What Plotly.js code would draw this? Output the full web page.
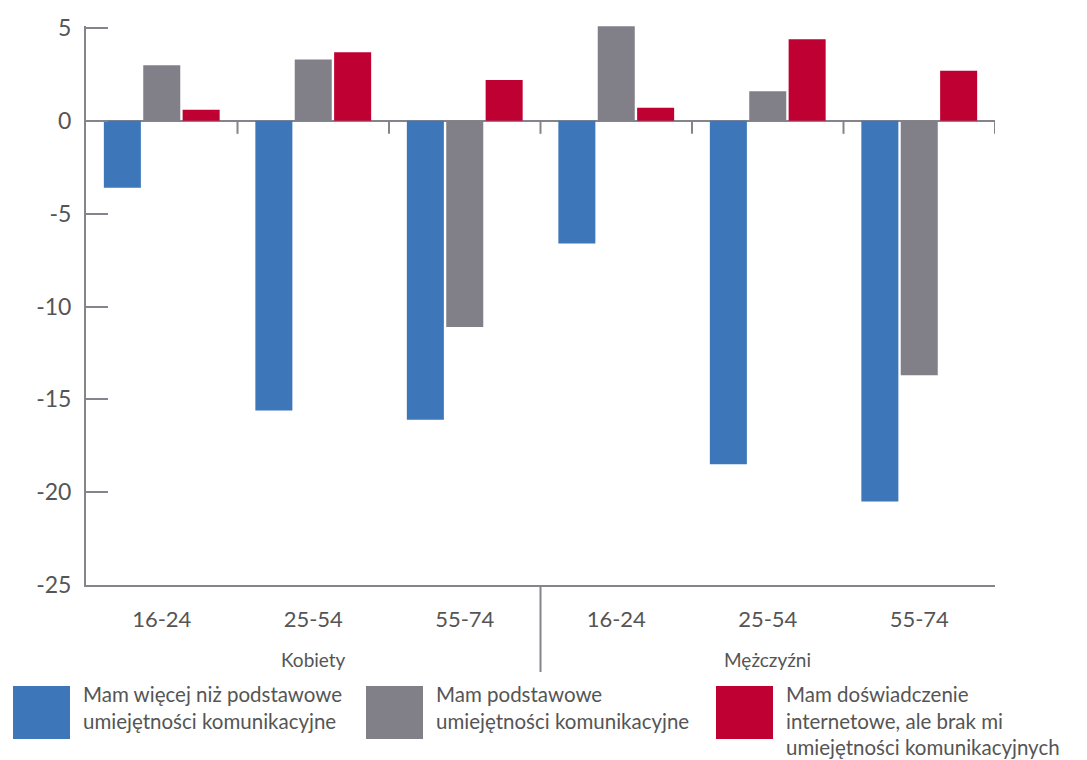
<!DOCTYPE html>
<html>
<head>
<meta charset="utf-8">
<script src="https://cdn.plot.ly/plotly-3.0.1.min.js"></script>
<style>html,body{margin:0;padding:0;background:#fff;}#chart{width:1087px;height:760px;}</style>
</head>
<body>
<div id="chart"></div>
<script>
// ---- data ----
const groups = ["Kobiety", "Mężczyźni"];
const ages = ["16-24", "25-54", "55-74"];
const seriesNames = [
  "Mam więcej niż podstawowe<br>umiejętności komunikacyjne",
  "Mam podstawowe<br>umiejętności komunikacyjne",
  "Mam doświadczenie<br>internetowe, ale brak mi<br>umiejętności komunikacyjnych"
];
const moreThanBasic = [-3.6, -15.6, -16.1, -6.6, -18.5, -20.5];
const basic = [3.0, 3.3, -11.1, 5.1, 1.6, -13.7];
const noSkills = [0.6, 3.7, 2.2, 0.7, 4.4, 2.7];
const colors = ["#3d77b9", "#818089", "#bf0032"];
const yTicks = [5, 0, -5, -10, -15, -20, -25];

// ---- layout helpers ----
const W = 1087, H = 760;
const M = {l: 86, r: 92, t: 26, b: 175};
const PW = W - M.l - M.r, PH = H - M.t - M.b;
const px = x => (x - M.l) / PW;
const py = y => (H - M.b - y) / PH;
const axisColor = "#85848c";
const textColor = "#555555";
const FONT = "Lato, 'Open Sans', sans-serif";

const cats = [];
groups.forEach(g => ages.forEach(a => cats.push(a)));
const xIdx = cats.map((_, i) => i);

const seriesValues = [moreThanBasic, basic, noSkills];
const traces = seriesValues.map((vals, k) => ({
  type: "bar",
  x: xIdx,
  y: vals,
  name: seriesNames[k].replace(/<br>/g, " "),
  marker: {color: colors[k], line: {width: 0}},
  showlegend: false,
  hoverinfo: "y"
}));

const shapes = [];
// tick marks on zero line at category boundaries
for (let i = 1; i <= cats.length; i++) {
  shapes.push({type: "line", xref: "x", yref: "y", x0: i - 0.5, x1: i - 0.5, y0: 0, y1: -0.7,
    line: {color: axisColor, width: 2}});
}
// group separator
for (let g = 1; g < groups.length; g++) {
  const xb = g * ages.length - 0.5;
  shapes.push({type: "line", xref: "x", yref: "paper", x0: xb, x1: xb, y0: 0, y1: py(672),
    line: {color: axisColor, width: 2}});
}
// legend boxes
const legX = [13, 366, 716];
const annotations = [];
groups.forEach((g, gi) => {
  annotations.push({xref: "x", yref: "paper", x: gi * ages.length + (ages.length - 1) / 2, y: py(659),
    text: g, showarrow: false, xanchor: "center", yanchor: "middle",
    font: {family: FONT, size: 19, color: textColor}});
});
seriesNames.forEach((n, k) => {
  shapes.push({type: "rect", xref: "paper", yref: "paper", x0: px(legX[k]), x1: px(legX[k] + 57),
    y0: py(739), y1: py(686), fillcolor: colors[k], line: {width: 0}});
  annotations.push({xref: "paper", yref: "paper", x: px(legX[k] + 68), y: py(680),
    text: n, showarrow: false, xanchor: "left", yanchor: "top", align: "left",
    font: {family: FONT, size: 20.5, color: textColor}});
});

const layout = {
  width: W, height: H,
  margin: M,
  paper_bgcolor: "#fff", plot_bgcolor: "#fff",
  barmode: "group",
  bargap: 0.22,
  bargroupgap: 0.06,
  font: {family: FONT, color: textColor},
  xaxis: {
    range: [-0.5, cats.length - 0.5],
    tickvals: xIdx, ticktext: cats,
    showgrid: false, zeroline: false,
    showline: true, linecolor: axisColor, linewidth: 2,
    ticks: "", ticklabelstandoff: 14,
    tickfont: {family: FONT, size: 22, color: textColor},
    fixedrange: true
  },
  yaxis: {
    range: [-25, 5.11],
    tickvals: yTicks, ticktext: yTicks.map(String),
    showgrid: false,
    zeroline: true, zerolinecolor: axisColor, zerolinewidth: 2,
    showline: true, linecolor: axisColor, linewidth: 2,
    ticks: "inside", ticklen: 22, tickwidth: 2, tickcolor: axisColor,
    ticklabelstandoff: 8,
    tickfont: {family: FONT, size: 23, color: textColor},
    fixedrange: true
  },
  shapes: shapes,
  annotations: annotations
};

Plotly.newPlot("chart", traces, layout, {displayModeBar: false, staticPlot: true});
</script>
</body>
</html>
